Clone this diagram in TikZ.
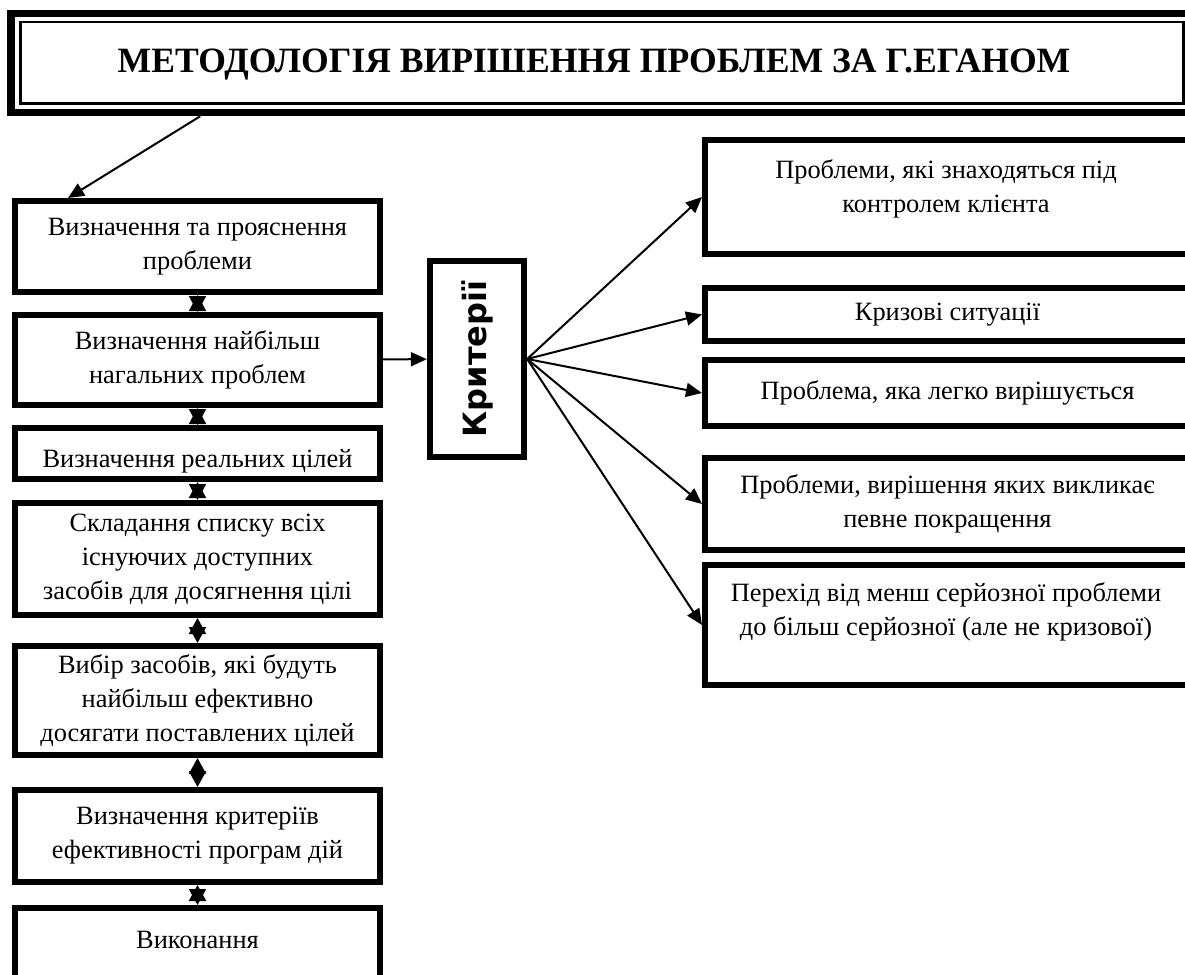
\documentclass[tikz,border=0pt]{standalone}
\usepackage{fontspec}
\setmainfont{Liberation Serif}
\newfontfamily\kritfont{DejaVu Sans}
\usetikzlibrary{arrows.meta}

\newcommand{\boxfont}{\fontsize{13.2}{17}\selectfont}

\tikzset{
  lbox/.style={draw, line width=3pt, minimum width=182.5pt, inner sep=0pt, align=center, font=\boxfont},
  rbox/.style={draw, line width=3pt, minimum width=242.5pt, inner sep=0pt, align=center, font=\boxfont},
  txt/.style={align=center, font=\boxfont, inner sep=0pt},
  arr/.style={line width=1pt, -{Triangle[length=8pt,width=7pt]}},
  dbl/.style={line width=1pt, {Triangle[length=8pt,width=8.5pt]}-{Triangle[length=8pt,width=8.5pt]}},
}

\begin{document}
\begin{tikzpicture}[x=0.5pt,y=-0.5pt]
    \useasboundingbox (0,0) rectangle (1185,975);
    \clip (0,0) rectangle (1185,975);

    % title
    \node[draw, line width=3.75pt, minimum width=591pt, minimum height=49.5pt] (title) at (602,63) {};
    \draw[line width=1.2pt] ([shift={(6.6pt,-6pt)}]title.north west) rectangle ([shift={(-6.6pt,6.3pt)}]title.south east);
    \node[font=\bfseries\fontsize{17.8}{20}\selectfont] (ttl) at (594,65) {МЕТОДОЛОГІЯ ВИРІШЕННЯ ПРОБЛЕМ ЗА Г.ЕГАНОМ};

    % left column
    \node[lbox, minimum height=45.5pt] (b1) at (197.5,246.5) {Визначення та прояснення\\проблеми};
    \node[lbox, minimum height=45pt] (b2) at (197.5,360) {Визначення найбільш\\нагальних проблем};
    \node[txt, anchor=base] (b3t) at (197.5,467) {Визначення реальних цілей};
    \node[lbox, minimum height=25.5pt] (b3) at (197.5,453.5) {};
    \node[lbox, minimum height=56pt] (b4) at (197.5,559) {Складання списку всіх\\існуючих доступних\\засобів для досягнення цілі};
    \node[lbox, minimum height=54.5pt] (b5) at (197.5,700.5) {Вибір засобів, які будуть\\найбільш ефективно\\досягати поставлених цілей};
    \node[lbox, minimum height=46pt] (b6) at (197.5,836) {Визначення критеріїв\\ефективності програм дій};
    \node[lbox, minimum height=51pt] (b7) at (197.5,959) {};
    \node[txt] (b7t) at (197.5,940) {Виконання};

    % criteria
    \node[draw, line width=3.2pt, minimum width=47pt, minimum height=98pt, inner sep=0pt] (krit) at (477,359)
        {\rotatebox{90}{\kritfont\bfseries\fontsize{16}{18}\selectfont Критерії}};

    % right column
    \node[rbox, minimum height=57pt] (r1) at (947.5,197) {};
    \node[txt] (r1t) at (946,189) {Проблеми, які знаходяться під\\контролем клієнта};
    \node[rbox, minimum height=26.5pt] (r2) at (947.5,314.5) {Кризові ситуації};
    \node[rbox, minimum height=33pt] (r3) at (947.5,393) {Проблема, яка легко вирішується};
    \node[rbox, minimum height=46pt] (r4) at (947.5,504) {Проблеми, вирішення яких викликає\\певне покращення};
    \node[rbox, minimum height=60pt] (r5) at (947.5,625) {};
    \node[txt] (r5t) at (946,611.5) {Перехід від менш серйозної проблеми\\до більш серйозної (але не кризової)};

    % connectors
    \draw[arr] ([xshift=96.5pt]title.south west) -- ([xshift=28pt]b1.north west);
    \foreach \a/\b in {b1/b2,b2/b3,b3/b4,b4/b5,b5/b6,b6/b7}
        \draw[dbl] (\a) -- (\b);
    \draw[arr] (b2) -- (krit);
    \foreach \i in {1,...,5}
        \draw[arr] (krit.east) -- (r\i.west);
\end{tikzpicture}
\end{document}
